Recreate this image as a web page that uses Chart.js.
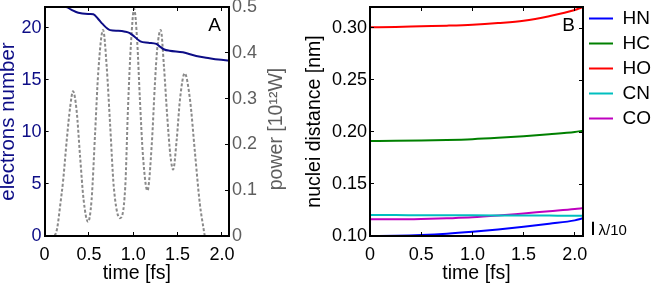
<!DOCTYPE html>
<html><head><meta charset="utf-8">
<script src="https://cdn.jsdelivr.net/npm/chart.js@4/dist/chart.umd.min.js"></script>
<style>
html,body{margin:0;padding:0;background:#fff;overflow:hidden;width:654px;height:285px;position:relative}
#a{position:absolute;left:0;top:0;width:300px;height:285px}
#b{position:absolute;left:300px;top:0;width:361px;height:285px}
</style></head><body>
<canvas id="a" width="300" height="285"></canvas>
<canvas id="b" width="361" height="285"></canvas>
<script>
// ---------- data ----------
const elecTime  = [0, 0.24, 0.30, 0.38, 0.51, 0.55, 0.60, 0.65, 0.74, 0.83, 0.91, 0.96, 1.00, 1.08, 1.17, 1.26, 1.30, 1.35, 1.41, 1.56, 1.71, 1.86, 1.96, 2.08];
const elecCount = [22.0, 22.0, 21.75, 21.45, 21.33, 21.3, 20.9, 20.4, 19.78, 19.72, 19.63, 19.5, 19.25, 18.7, 18.57, 18.45, 18.2, 17.92, 17.8, 17.65, 17.3, 17.08, 16.95, 16.85];

const powerTime  = [0, 0.10, 0.14, 0.174, 0.21, 0.25, 0.29, 0.32, 0.36, 0.40, 0.44, 0.49, 0.53, 0.57, 0.605, 0.66, 0.70, 0.74, 0.78, 0.85, 0.91, 0.94, 0.975, 1.01, 1.045, 1.075, 1.11, 1.16, 1.21, 1.245, 1.27, 1.31, 1.346, 1.383, 1.42, 1.45, 1.49, 1.527, 1.58, 1.64, 1.696, 1.75, 1.79, 1.81, 2.08];
const powerValue = [0, 0, 0.015, 0.064, 0.123, 0.21, 0.284, 0.316, 0.276, 0.174, 0.079, 0.031, 0.079, 0.226, 0.357, 0.450, 0.371, 0.24, 0.108, 0.039, 0.108, 0.276, 0.423, 0.496, 0.423, 0.298, 0.174, 0.099, 0.204, 0.335, 0.408, 0.450, 0.371, 0.262, 0.174, 0.145, 0.21, 0.298, 0.355, 0.298, 0.182, 0.072, 0.02, 0, 0];

const distTime = [0, 0.25, 0.5, 0.75, 1.0, 1.25, 1.5, 1.75, 2.0, 2.08];
const distHN = [0.1000, 0.1003, 0.1010, 0.1022, 0.1040, 0.1062, 0.1088, 0.1118, 0.1150, 0.1170];
const distHC = [0.1913, 0.1914, 0.1917, 0.1922, 0.1930, 0.1943, 0.1959, 0.1977, 0.1999, 0.2012];
const distHO = [0.3005, 0.3008, 0.3015, 0.3021, 0.3030, 0.3046, 0.3068, 0.3112, 0.3171, 0.3200];
const distCN = [0.1201, 0.1201, 0.1200, 0.1200, 0.1199, 0.1198, 0.1197, 0.1196, 0.1195, 0.1195];
const distCO = [0.1160, 0.1160, 0.1163, 0.1170, 0.1179, 0.1196, 0.1217, 0.1238, 0.1259, 0.1268];
const pairNames = ['HN', 'HC', 'HO', 'CN', 'CO'];

const timeRange = [0, 2.08];
const electronRange = [0, 22];
const powerRange = [0, 0.5];
const distRange = [0.10, 0.32];
const lambdaBar = [0.1010, 0.1137];
const lambdaText = 'λ/10';
const panelLabels = ['A', 'B'];
const titles = {time: 'time [fs]', electrons: 'electrons number', power: 'power [10¹²W]', dist: 'nuclei distance [nm]'};

// ---------- style ----------
const FONT = "'Liberation Sans', Arial, Helvetica, sans-serif";
Chart.defaults.font.family = FONT;
const NAVY = '#0d0d86';
const GRAYTXT = '#5e5e5e';
const pairColors = ['#0000ff', '#008000', '#ff0000', '#00bfbf', '#bf00bf'];

const zip = (xs, ys) => xs.map((x, i) => ({x: x, y: ys[i]}));
const gridIn = () => ({display: true, drawOnChartArea: false, drawTicks: true, tickLength: -4, tickColor: '#000', tickWidth: 1, z: 1});
const borderK = () => ({display: true, color: '#000', width: 2, z: 1});
const tickFont = {family: FONT, size: 18};
const fmtTime = v => v === 0 ? '0' : v.toFixed(1);

function xBottom() {
  return {type: 'linear', position: 'bottom', min: timeRange[0], max: timeRange[1],
    ticks: {stepSize: 0.5, includeBounds: false, font: tickFont, color: '#000', padding: 12, maxRotation: 0, autoSkip: false, callback: fmtTime},
    grid: gridIn(), border: borderK(),
    title: {display: true, text: titles.time, color: '#000', font: {family: FONT, size: 19.5, lineHeight: 1}, padding: {top: 0, bottom: 2}},
    afterFit(s) { s.height = 49; s.paddingLeft = 0; s.paddingRight = 0; }};
}
function xTop() {
  return {type: 'linear', position: 'top', min: timeRange[0], max: timeRange[1],
    ticks: {display: false, stepSize: 0.5, includeBounds: false},
    grid: gridIn(), border: borderK(),
    afterFit(s) { s.height = 0; s.paddingLeft = 0; s.paddingRight = 0; }};
}

const panelLabel = (txt) => ({
  id: 'panel' + txt,
  afterDraw(chart) {
    const {ctx, chartArea} = chart;
    ctx.save();
    ctx.font = '19px ' + FONT; ctx.fillStyle = '#000';
    ctx.textAlign = 'center'; ctx.textBaseline = 'alphabetic';
    ctx.fillText(txt, chartArea.right - 14.5, chartArea.top + 24);
    ctx.restore();
  }
});

// ---------- panel A ----------
const powerTitle = {
  id: 'powerTitle',
  afterDraw(chart) {
    const {ctx, chartArea} = chart;
    const s = chart.scales.y2;
    ctx.save();
    ctx.translate(s.left + 47.2, (chartArea.top + chartArea.bottom) / 2 + 7.5);
    ctx.rotate(-Math.PI / 2);
    ctx.font = '19.5px ' + FONT; ctx.fillStyle = GRAYTXT;
    ctx.textAlign = 'center'; ctx.textBaseline = 'middle';
    ctx.fillText(titles.power, 0, 0);
    ctx.restore();
  }
};

new Chart(document.getElementById('a'), {
  type: 'line',
  data: {datasets: [
    {label: 'electrons', data: zip(elecTime, elecCount), yAxisID: 'y', xAxisID: 'x',
     borderColor: NAVY, borderWidth: 2, pointRadius: 0, cubicInterpolationMode: 'monotone', fill: false, clip: 0},
    {label: 'power', data: zip(powerTime, powerValue), yAxisID: 'y2', xAxisID: 'x',
     borderColor: '#8a8a8a', borderWidth: 2, borderDash: [3, 2], pointRadius: 0, cubicInterpolationMode: 'monotone', fill: false}
  ]},
  options: {
    responsive: false, animation: false, devicePixelRatio: 1,
    layout: {padding: {top: 7, left: 0, right: 0, bottom: 0}},
    plugins: {legend: {display: false}, tooltip: {enabled: false}},
    scales: {
      x: xBottom(),
      xt: xTop(),
      y: {position: 'left', min: electronRange[0], max: electronRange[1],
        ticks: {stepSize: 5, includeBounds: false, font: tickFont, color: NAVY, padding: 7},
        grid: gridIn(), border: borderK(),
        title: {display: true, text: titles.electrons, color: NAVY, font: {family: FONT, size: 20.5, lineHeight: 1}, padding: {top: -2, bottom: 0}},
        afterFit(s) { s.width = 44.6; s.paddingTop = 0; s.paddingBottom = 0; }},
      y2: {position: 'right', min: powerRange[0], max: powerRange[1],
        ticks: {stepSize: 0.1, includeBounds: false, font: tickFont, color: GRAYTXT, padding: 7,
          callback: v => v === 0 ? '0' : v.toFixed(1)},
        grid: gridIn(), border: borderK(),
        afterFit(s) { s.width = 71; s.paddingTop = 0; s.paddingBottom = 0; }}
    }
  },
  plugins: [panelLabel(panelLabels[0]), powerTitle]
});

// ---------- panel B ----------
const lambdaPlugin = {
  id: 'lambda',
  afterDraw(chart) {
    const {ctx, chartArea} = chart;
    const y = chart.scales.y;
    const x = chartArea.right + 10;
    ctx.save();
    ctx.strokeStyle = '#000'; ctx.lineWidth = 2;
    ctx.beginPath();
    ctx.moveTo(x, y.getPixelForValue(lambdaBar[0]));
    ctx.lineTo(x, y.getPixelForValue(lambdaBar[1]));
    ctx.stroke();
    ctx.font = '15px ' + FONT; ctx.fillStyle = '#000';
    ctx.textAlign = 'left'; ctx.textBaseline = 'alphabetic';
    ctx.fillText(lambdaText, x + 5.5, y.getPixelForValue(lambdaBar[0]));
    ctx.restore();
  }
};
// closed box on the right edge: mirror the y-axis tick marks (MATLAB style)
const rightFrame = {
  id: 'rightFrame',
  afterDatasetsDraw(chart) {
    const {ctx, chartArea} = chart;
    const y = chart.scales.y;
    const x = Math.round(chartArea.right);
    ctx.save();
    ctx.strokeStyle = '#000';
    ctx.lineWidth = 2;
    ctx.beginPath(); ctx.moveTo(x, chartArea.top - 1); ctx.lineTo(x, chartArea.bottom + 1); ctx.stroke();
    ctx.lineWidth = 1;
    y.ticks.forEach(t => {
      const py = Math.round(y.getPixelForValue(t.value)) + 0.5;
      ctx.beginPath(); ctx.moveTo(x - 4, py); ctx.lineTo(x, py); ctx.stroke();
    });
    ctx.restore();
  }
};

const distSeries = [distHN, distHC, distHO, distCN, distCO];
new Chart(document.getElementById('b'), {
  type: 'line',
  data: {datasets: distSeries.map((vals, i) => ({
    label: pairNames[i], data: zip(distTime, vals), xAxisID: 'x', yAxisID: 'y',
    borderColor: pairColors[i], backgroundColor: pairColors[i], borderWidth: 2, pointRadius: 0,
    cubicInterpolationMode: 'monotone', fill: false
  }))},
  options: {
    responsive: false, animation: false, devicePixelRatio: 1,
    layout: {padding: {top: 3, left: 0, right: 0, bottom: 0}},
    plugins: {
      tooltip: {enabled: false},
      legend: {display: true, position: 'right', align: 'start',
        labels: {usePointStyle: true, pointStyle: 'line', pointStyleWidth: 24, font: {family: FONT, size: 19}, color: '#000', padding: 6}}
    },
    scales: {
      x: xBottom(),
      xt: xTop(),
      y: {position: 'left', min: distRange[0], max: distRange[1],
        ticks: {stepSize: 0.05, includeBounds: false, font: tickFont, color: '#000', padding: 7, callback: v => v.toFixed(2)},
        grid: gridIn(), border: borderK(),
        title: {display: true, text: titles.dist, color: '#000', font: {family: FONT, size: 19.5, lineHeight: 1}, padding: {top: 5, bottom: 0}},
        afterFit(s) { s.width = 70; s.paddingTop = 7; s.paddingBottom = 0; }}
    }
  },
  plugins: [panelLabel(panelLabels[1]), lambdaPlugin, rightFrame]
});
</script>
</body></html>
